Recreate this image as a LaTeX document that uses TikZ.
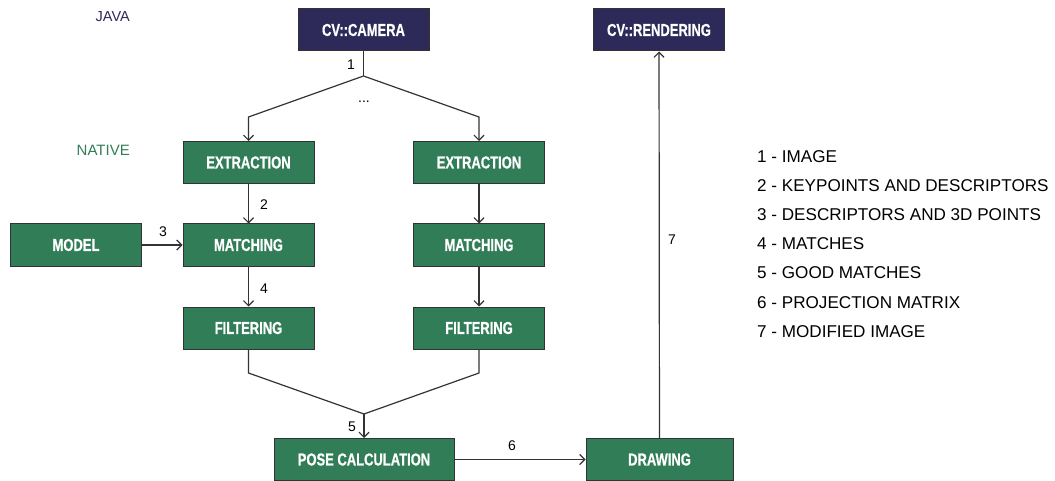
\documentclass[tikz,border=0pt]{standalone}
\usepackage{fontspec}
\setmainfont{Liberation Sans}
\newfontfamily\boxfont{Liberation Sans}[FakeStretch=0.75,FakeBold=0.6]
\usetikzlibrary{arrows.meta}
\definecolor{navy}{HTML}{2D2A5A}
\definecolor{dgreen}{HTML}{317D57}
\definecolor{edge}{HTML}{333333}
\tikzset{
  box/.style={draw=edge, line width=1pt, minimum height=42pt, minimum width=131pt, inner sep=0pt,
    text=white, font=\boxfont\bfseries\fontsize{17.3}{19}\selectfont},
  javabox/.style={box, fill=navy},
  nativebox/.style={box, fill=dgreen},
  conn/.style={draw=edge, line width=1.2pt},
  arr/.style={conn, -{Straight Barb[length=5pt,width=10pt,line width=1.2pt]}},
  lbl/.style={font=\fontsize{14}{16}\selectfont, inner sep=0pt},
  legend/.style={font=\fontsize{17.1}{19}\selectfont, anchor=base west, inner sep=0pt},
}
\begin{document}
\begin{tikzpicture}[x=1pt,y=-1pt]
\useasboundingbox (0,0) rectangle (1055,481);
% layer labels
\node[font=\fontsize{14.5}{16}\selectfont, text=navy, anchor=east, inner sep=0pt] (java) at (130,17) {JAVA};
\node[font=\fontsize{15}{17}\selectfont, text=dgreen, anchor=east, inner sep=0pt] (native) at (130,150) {NATIVE};
% nodes
\node[javabox] (camera) at (363.5,30) {CV::CAMERA};
\node[javabox] (render) at (659,30) {CV::RENDERING};
\node[nativebox] (ext1) at (248.5,162.5) {EXTRACTION};
\node[nativebox] (ext2) at (479,162.5) {EXTRACTION};
\node[nativebox] (mat1) at (248.5,245) {MATCHING};
\node[nativebox] (mat2) at (479,245) {MATCHING};
\node[nativebox] (fil1) at (248.5,328) {FILTERING};
\node[nativebox] (fil2) at (479,328) {FILTERING};
\node[nativebox] (model) at (76,245) {MODEL};
\node[nativebox, minimum width=180pt] (pose) at (364,459.5) {POSE CALCULATION};
\node[nativebox, minimum width=147pt] (draw) at (659.5,459.5) {DRAWING};
% bend coordinates
\coordinate (split) at (363.5,76);
\coordinate (sl) at (248.5,117);
\coordinate (sr) at (479,117);
\coordinate (ml) at (248.5,373);
\coordinate (mr) at (479,373);
\coordinate (merge) at (364,414);
% connectors
\draw[conn] (camera.south) -- (split);
\draw[arr] (split) -- (sl) -- (ext1.north);
\draw[arr] (split) -- (sr) -- (ext2.north);
\draw[arr] (ext1) -- (mat1);
\draw[arr] (ext2) -- (mat2);
\draw[arr] (mat1) -- (fil1);
\draw[arr] (mat2) -- (fil2);
\draw[arr] (model) -- (mat1);
\draw[conn] (fil1.south) -- (ml) -- (merge);
\draw[conn] (fil2.south) -- (mr) -- (merge);
\draw[arr] (merge) -- (pose.north);
\draw[arr] (pose) -- (draw);
\draw[arr] (draw) -- (render);
% connector labels
\node[lbl] (l1) at (351,65) {1};
\node[lbl] (ldots) at (364,102) {...};
\node[lbl] (l2) at (264,205) {2};
\node[lbl] (l3) at (163,232) {3};
\node[lbl] (l4) at (264,289) {4};
\node[lbl] (l5) at (352,427) {5};
\node[lbl] (l6) at (512,446) {6};
\node[lbl] (l7) at (672,240) {7};
% legend
\node[legend] (g1) at (757,163) {1 - IMAGE};
\node[legend] (g2) at (757,192) {2 - KEYPOINTS AND DESCRIPTORS};
\node[legend] (g3) at (757,221) {3 - DESCRIPTORS AND 3D POINTS};
\node[legend] (g4) at (757,250) {4 - MATCHES};
\node[legend] (g5) at (757,279) {5 - GOOD MATCHES};
\node[legend] (g6) at (757,308) {6 - PROJECTION MATRIX};
\node[legend] (g7) at (757,337) {7 - MODIFIED IMAGE};
\end{tikzpicture}
\end{document}
